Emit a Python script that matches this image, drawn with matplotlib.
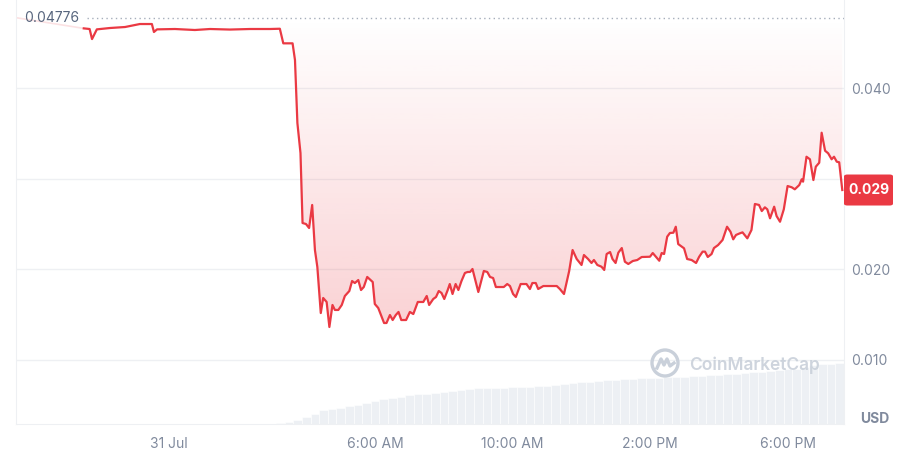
import numpy as np
import matplotlib.pyplot as plt
from matplotlib.patches import Circle, FancyBboxPatch

plt.rcParams['font.family'] = ['Inter', 'DejaVu Sans']

# precio (USD) frente a horas desde 31 Jul 00:00
hours = [-2.47, -2.30, -2.23, -2.09, -1.71, -1.27, -0.84, -0.49, -0.43, -0.34,
         0.18, 0.76, 1.20, 1.78, 2.36, 2.94, 3.23, 3.33, 3.60, 3.67,
         3.74, 3.83, 3.89, 3.99, 4.08, 4.17, 4.25, 4.32, 4.42, 4.49,
         4.59, 4.67, 4.76, 4.83, 4.93, 5.03, 5.12, 5.25, 5.33, 5.41,
         5.51, 5.59, 5.67, 5.77, 5.93, 5.99, 6.09, 6.26, 6.33, 6.43,
         6.51, 6.60, 6.68, 6.76, 6.90, 7.01, 7.11, 7.24, 7.40, 7.50,
         7.57, 7.69, 7.77, 7.85, 7.93, 8.01, 8.11, 8.17, 8.25, 8.34,
         8.42, 8.51, 8.61, 8.69, 8.76, 8.83, 9.00, 9.16, 9.26, 9.34,
         9.43, 9.51, 9.61, 9.74, 9.84, 9.92, 10.01, 10.09, 10.23, 10.40,
         10.50, 10.57, 10.67, 10.74, 10.89, 11.28, 11.37, 11.49, 11.64, 11.74,
         11.86, 12.00, 12.07, 12.19, 12.29, 12.36, 12.46, 12.58, 12.66, 12.73,
         12.83, 12.90, 12.99, 13.07, 13.17, 13.26, 13.36, 13.49, 13.62, 13.75,
         13.99, 14.07, 14.26, 14.33, 14.40, 14.49, 14.57, 14.67, 14.74, 14.81,
         14.98, 15.07, 15.20, 15.33, 15.42, 15.52, 15.59, 15.67, 15.78, 15.85,
         15.97, 16.10, 16.23, 16.33, 16.41, 16.49, 16.60, 16.68, 16.82, 16.94,
         17.04, 17.16, 17.24, 17.33, 17.40, 17.48, 17.60, 17.67, 17.77, 17.88,
         17.99, 18.11, 18.20, 18.33, 18.40, 18.44, 18.54, 18.64, 18.74, 18.81,
         18.91, 18.98, 19.08, 19.17, 19.27, 19.34, 19.42, 19.49, 19.58]

price = [0.04658, 0.04651, 0.04540, 0.04647, 0.04662, 0.04673, 0.04706, 0.04706, 0.04618, 0.04647,
         0.04651, 0.04640, 0.04651, 0.04645, 0.04651, 0.04651, 0.04654, 0.04493, 0.04493, 0.04309,
         0.03614, 0.03283, 0.02511, 0.02500, 0.02456, 0.02710, 0.02213, 0.02026, 0.01518, 0.01684,
         0.01640, 0.01364, 0.01607, 0.01552, 0.01552, 0.01607, 0.01706, 0.01761, 0.01871, 0.01849,
         0.01882, 0.01772, 0.01805, 0.01916, 0.01860, 0.01618, 0.01574, 0.01408, 0.01408, 0.01496,
         0.01441, 0.01496, 0.01530, 0.01441, 0.01441, 0.01530, 0.01507, 0.01640, 0.01640, 0.01706,
         0.01607, 0.01673, 0.01695, 0.01761, 0.01739, 0.01673, 0.01772, 0.01838, 0.01728, 0.01838,
         0.01772, 0.01871, 0.01960, 0.01971, 0.01971, 0.02004, 0.01750, 0.01982, 0.01971, 0.01916,
         0.01904, 0.01805, 0.01805, 0.01805, 0.01838, 0.01816, 0.01728, 0.01695, 0.01838, 0.01838,
         0.01783, 0.01849, 0.01849, 0.01783, 0.01816, 0.01816, 0.01783, 0.01728, 0.01980, 0.02213,
         0.02114, 0.02048, 0.02158, 0.02114, 0.02070, 0.02103, 0.02048, 0.02029, 0.01993, 0.02169,
         0.02191, 0.02114, 0.02070, 0.02184, 0.02235, 0.02084, 0.02059, 0.02092, 0.02103, 0.02136,
         0.02139, 0.02180, 0.02095, 0.02180, 0.02169, 0.02360, 0.02401, 0.02404, 0.02470, 0.02279,
         0.02232, 0.02114, 0.02103, 0.02070, 0.02139, 0.02195, 0.02195, 0.02136, 0.02169, 0.02235,
         0.02268, 0.02324, 0.02470, 0.02415, 0.02331, 0.02379, 0.02397, 0.02408, 0.02342, 0.02434,
         0.02721, 0.02710, 0.02643, 0.02684, 0.02662, 0.02563, 0.02691, 0.02588, 0.02525, 0.02662,
         0.02919, 0.02905, 0.02883, 0.02930, 0.02993, 0.02967, 0.03242, 0.03214, 0.02985, 0.03132,
         0.03176, 0.03507, 0.03308, 0.03280, 0.03214, 0.03242, 0.03187, 0.03181, 0.02875]

open_price = 0.04776
last_label = '0.029'

# volumen relativo, una barra cada cuarto de hora desde las 3:15
vol_start, vol_step = 3.25, 0.25
volume = [1, 2, 4, 7, 10, 14, 15.5, 16.5, 18, 19.5,
          21, 23, 25.5, 26.5, 27.5, 29, 30, 30.5, 31.5, 32.5,
          33.5, 34.5, 35, 36, 36, 36.5, 36.5, 37, 37, 37.5,
          38, 38.5, 39, 40, 41, 42, 42.5, 42.7, 44, 44.3,
          44.8, 45.2, 45.6, 46, 46.3, 46.7, 47, 47.5, 47.8, 48.2,
          48.7, 49.2, 49.7, 50.2, 51, 51.8, 52.5, 53.5, 54.5, 55,
          55.5, 57, 59, 60, 60.5, 61]

tick_hours = [0, 6, 10, 14, 18]
tick_labels = ['31 Jul', '6:00 AM', '10:00 AM', '2:00 PM', '6:00 PM']
grid_prices = [0.010, 0.020, 0.030, 0.040]
label_prices = [0.010, 0.020, 0.040]

RED = '#EA3943'
GREY = '#808A9D'
xmin, xmax = -4.44, 19.63
ymin, ymax = 0.00294, 0.04971

fig = plt.figure(figsize=(9.04, 4.72), dpi=100)
rect = [16 / 904, 48 / 472, 828 / 904, 424 / 472]

# volumen en un eje aparte detrás
vax = fig.add_axes(rect)
vol_x = vol_start + vol_step * np.arange(len(volume))
vax.bar(vol_x, volume, width=vol_step, color='#EDF0F4', edgecolor='white', linewidth=0.4)
vax.set_xlim(xmin, xmax)
vax.set_ylim(0, 424)
vax.axis('off')

ax = fig.add_axes(rect)
ax.patch.set_visible(False)
ax.set_xlim(xmin, xmax)
ax.set_ylim(ymin, ymax)

for g in grid_prices:
    ax.axhline(g, color='#EEF0F3', lw=1, zorder=0)

# relleno con degradado entre la línea y el precio de apertura
poly = ax.fill_between(hours, price, open_price, color='none', lw=0)
alpha = np.linspace(0.30, 0.0, 256).reshape(-1, 1)
rgba = np.zeros((256, 1, 4))
rgba[..., 0], rgba[..., 1], rgba[..., 2] = 0xEA / 255, 0x39 / 255, 0x43 / 255
rgba[..., 3] = alpha
im = ax.imshow(rgba, extent=[xmin, xmax, ymin, open_price], origin='lower',
               aspect='auto', zorder=1)
im.set_clip_path(poly.get_paths()[0], transform=ax.transData)
ax.set_xlim(xmin, xmax)
ax.set_ylim(ymin, ymax)

ax.plot([xmin, hours[0]], [open_price, price[0]], color=RED, lw=1.2, alpha=0.15, zorder=2)
ax.plot(hours, price, color=RED, lw=1.6, solid_joinstyle='round', zorder=3)

# línea de apertura punteada
ax.axhline(open_price, xmin=0.086, xmax=1, color='#A6AEBB', lw=1,
           ls=(0, (1, 2.4)), zorder=2)
ax.text(0.01, open_price, '0.04776', transform=ax.get_yaxis_transform(),
        va='center', ha='left', fontsize=10, color='#58667E', zorder=4)

ax.set_xticks(tick_hours)
ax.set_xticklabels(tick_labels)
ax.yaxis.tick_right()
ax.set_yticks(label_prices)
ax.set_yticklabels([f'{v:.3f}' for v in label_prices])
ax.tick_params(axis='x', length=0, pad=9, labelsize=10, labelcolor=GREY)
ax.tick_params(axis='y', length=0, pad=5, labelsize=10, labelcolor=GREY)
ax.spines['top'].set_visible(False)
for s in ['left', 'right', 'bottom']:
    ax.spines[s].set_color('#EEF0F3')

# etiqueta del último precio
yf = (price[-1] - ymin) / (ymax - ymin)
h = 31 / 424
box = FancyBboxPatch((1.0, yf - h / 2), 49 / 828, h, boxstyle='round,pad=0,rounding_size=0.004',
                     transform=ax.transAxes, facecolor=RED, edgecolor='none', clip_on=False, zorder=5)
ax.add_patch(box)
ax.text(1.0 + 24.5 / 828, yf, last_label, transform=ax.transAxes, ha='center', va='center',
        fontsize=10, fontweight='bold', color='white', zorder=6)

fig.text(860 / 904, 1 - 419 / 472, 'USD', fontsize=10, fontweight='bold', color=GREY, va='center')

# marca de agua
fig.text(689 / 904, 1 - 365 / 472, 'CoinMarketCap', fontsize=12.5, fontweight='semibold',
         color='#C9D0DA', va='center', alpha=0.9)
cx, cy = 6.65, 1.09
fig.patches.append(Circle((cx, cy), 0.13, transform=fig.dpi_scale_trans, fill=False,
                          edgecolor='#C9D0DA', lw=2.4))
wx = np.array([-0.08, -0.04, -0.01, 0.02, 0.05, 0.09])
wy = np.array([-0.05, 0.04, -0.02, 0.04, -0.03, 0.0])
fig.lines.append(plt.Line2D(cx + wx, cy + wy, transform=fig.dpi_scale_trans,
                            color='#C9D0DA', lw=2.4, solid_joinstyle='round'))

fig.savefig('out.png', dpi=100)
